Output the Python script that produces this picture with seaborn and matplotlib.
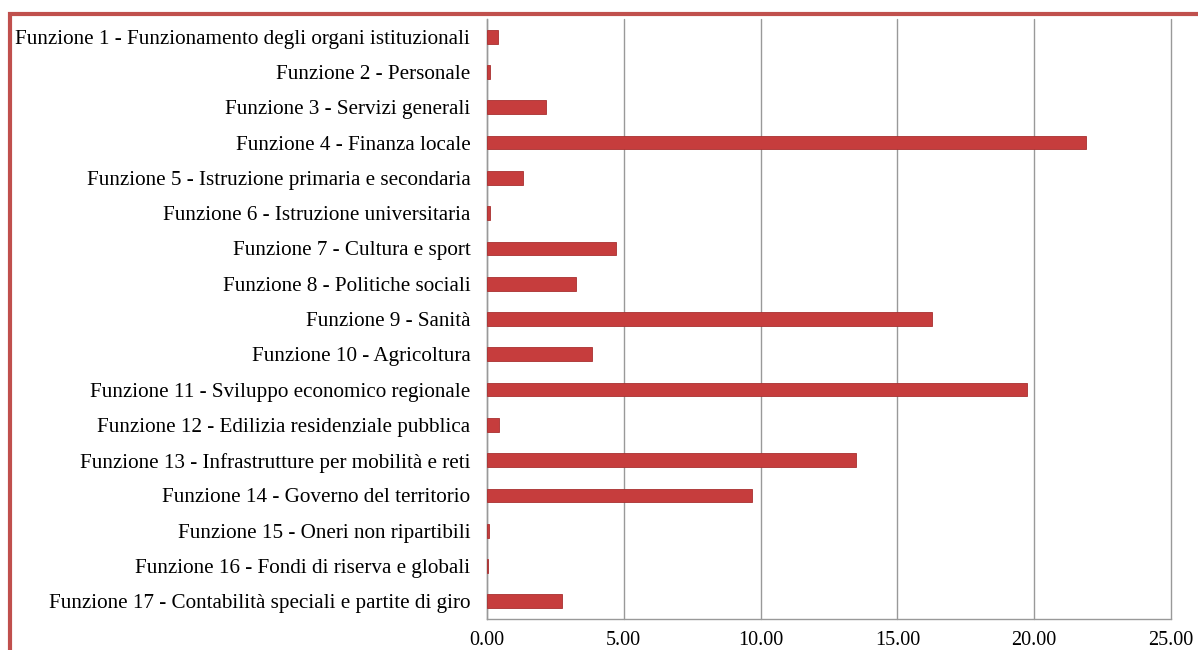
import matplotlib
matplotlib.use("Agg")
import matplotlib.pyplot as plt
import seaborn as sns
import numpy as np
import pandas as pd
from matplotlib.patches import Rectangle

# dati
funzioni = [
    "Funzione 1 - Funzionamento degli organi istituzionali",
    "Funzione 2 - Personale",
    "Funzione 3 - Servizi generali",
    "Funzione 4 - Finanza locale",
    "Funzione 5 - Istruzione primaria e secondaria",
    "Funzione 6 - Istruzione universitaria",
    "Funzione 7 - Cultura e sport",
    "Funzione 8 - Politiche sociali",
    "Funzione 9 - Sanità",
    "Funzione 10 - Agricoltura",
    "Funzione 11 - Sviluppo economico regionale",
    "Funzione 12 - Edilizia residenziale pubblica",
    "Funzione 13 - Infrastrutture per mobilità e reti",
    "Funzione 14 - Governo del territorio",
    "Funzione 15 - Oneri non ripartibili",
    "Funzione 16 - Fondi di riserva e globali",
    "Funzione 17 - Contabilità speciali e partite di giro",
]
valori = [0.42, 0.12, 2.17, 21.88, 1.32, 0.12, 4.71, 3.24, 16.26, 3.84,
          19.74, 0.44, 13.49, 9.69, 0.06, 0.02, 2.73]
x_ticks = [0, 5, 10, 15, 20, 25]

df = pd.DataFrame({"funzione": funzioni, "valore": valori})

sns.set_style("white")
plt.rcParams['font.family'] = ['Liberation Serif', 'DejaVu Serif']

fig = plt.figure(figsize=(11.98, 6.5), dpi=100)
ax = fig.add_axes([0.4065, 0.0477, 0.571, 0.923])

sns.barplot(data=df, x="valore", y="funzione", color="#C63D3D", width=0.39,
            saturation=1, ax=ax, zorder=3, edgecolor="#A83030", linewidth=0.6)

ax.set_xlim(0, 25)
ax.set_ylim(16.5, -0.5)
ax.set_xticks(x_ticks)
ax.set_xticklabels([f"{t:.2f}" for t in x_ticks], fontsize=14.5, color="black")
ax.set_yticks(range(len(funzioni)))
ax.set_yticklabels(funzioni, fontsize=15.2, color="black")
ax.set_yticks(np.arange(-0.5, 17, 1), minor=True)
ax.tick_params(axis="y", which="major", length=0, pad=12)
ax.tick_params(axis="y", which="minor", length=6, color="#999999", direction="out")
ax.tick_params(axis="x", length=6, color="#999999", direction="out", pad=3)
ax.set_xlabel("")
ax.set_ylabel("")
ax.grid(axis="x", color="#999999", linewidth=1, zorder=0)
for s in ["top", "right"]:
    ax.spines[s].set_visible(False)
for s in ["left", "bottom"]:
    ax.spines[s].set_color("#999999")
    ax.spines[s].set_linewidth(1)
for gl in ax.get_xgridlines():
    gl.set_clip_on(False)

# bordo rosso del grafico
fig.patches.append(Rectangle((10 / 1198, -0.1), 1.2, 1.1 - 14 / 650,
                             transform=fig.transFigure, fill=False,
                             edgecolor="#C0504D", linewidth=3))

fig.savefig("out.png", dpi=100)
